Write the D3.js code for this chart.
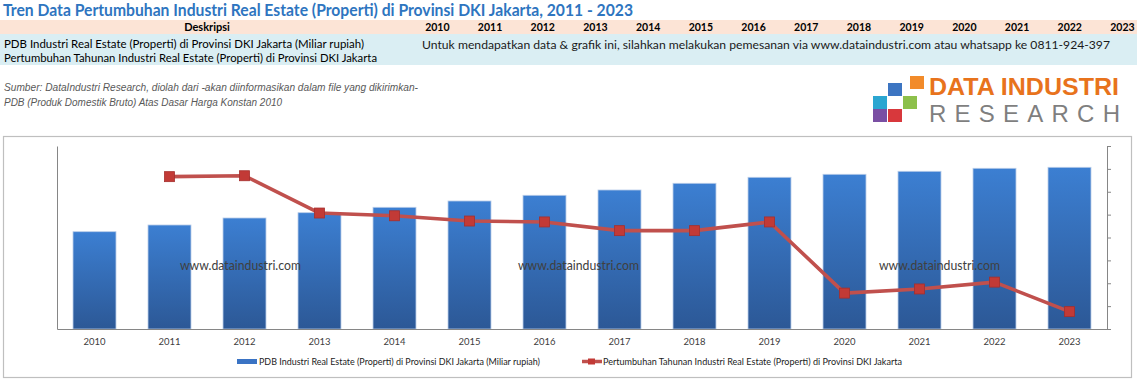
<!DOCTYPE html>
<html>
<head>
<meta charset="utf-8">
<script src="https://cdn.jsdelivr.net/npm/d3@7/dist/d3.min.js"></script>
<style>
  html, body { margin: 0; padding: 0; background: #ffffff; }
  svg { display: block; }
</style>
</head>
<body>
<svg id="chart" width="1137" height="380"></svg>
<script>
// ---------- data ----------
const years = ["2010","2011","2012","2013","2014","2015","2016","2017","2018","2019","2020","2021","2022","2023"];
const pdbValues = [97300, 104000, 111000, 116300, 121700, 128000, 133700, 139000, 145700, 151700, 154700, 157700, 160700, 161700];
const growthValues = [null, 6.66, 6.70, 5.07, 4.95, 4.72, 4.68, 4.30, 4.30, 4.68, 1.57, 1.75, 2.05, 0.76];
const rightTicks = [0, 1, 2, 3, 4, 5, 6, 7, 8];
const titleText = "Tren Data Pertumbuhan Industri Real Estate (Properti) di Provinsi DKI Jakarta, 2011 - 2023";
const seriesNames = [
  "PDB Industri Real Estate (Properti) di Provinsi DKI Jakarta (Miliar rupiah)",
  "Pertumbuhan Tahunan Industri Real Estate (Properti) di Provinsi DKI Jakarta"
];
const noticeText = "Untuk mendapatkan data & grafik ini, silahkan melakukan pemesanan via www.dataindustri.com atau whatsapp ke 0811-924-397";
const sourceLines = [
  "Sumber: DataIndustri Research, diolah dari -akan diinformasikan dalam file yang dikirimkan-",
  "PDB (Produk Domestik Bruto) Atas Dasar Harga Konstan 2010"
];
const watermark = "www.dataindustri.com";

// ---------- setup ----------
const svg = d3.select("#chart");
const F = "Lato, 'Open Sans', sans-serif";

svg.append("rect").attr("width", 1137).attr("height", 380).attr("fill", "#ffffff");

// Title
svg.append("text")
  .attr("x", 3).attr("y", 16)
  .attr("font-family", F).attr("font-weight", "bold").attr("font-size", 17)
  .attr("fill", "#2e75c0")
  .attr("textLength", 630).attr("lengthAdjust", "spacingAndGlyphs")
  .text(titleText);

// Table header band
svg.append("rect").attr("x", 0).attr("y", 20).attr("width", 1137).attr("height", 14).attr("fill", "#fce4d6");
svg.append("rect").attr("x", 0).attr("y", 34).attr("width", 1137).attr("height", 31).attr("fill", "#daeef3");

svg.append("text")
  .attr("x", 207).attr("y", 31)
  .attr("text-anchor", "middle")
  .attr("font-family", F).attr("font-weight", "bold").attr("font-size", 11)
  .attr("fill", "#000")
  .text("Deskripsi");

const headerX = d3.scaleBand().domain(years).range([411, 1148.8]);
svg.append("g").selectAll("text").data(years).join("text")
  .attr("x", d => headerX(d) + headerX.bandwidth() / 2)
  .attr("y", 31)
  .attr("text-anchor", "middle")
  .attr("font-family", F).attr("font-weight", "bold").attr("font-size", 10.5)
  .attr("fill", "#000")
  .text(d => d);

const rowWidths = [360, 373];
svg.append("g").selectAll("text").data(seriesNames).join("text")
  .attr("x", 4)
  .attr("y", (d, i) => 47.5 + i * 14)
  .attr("font-family", F).attr("font-size", 11.5)
  .attr("fill", "#000")
  .attr("textLength", (d, i) => rowWidths[i]).attr("lengthAdjust", "spacingAndGlyphs")
  .text(d => d);

svg.append("text")
  .attr("x", 422).attr("y", 48.5)
  .attr("font-family", F).attr("font-size", 12)
  .attr("fill", "#1a1a1a")
  .attr("textLength", 688).attr("lengthAdjust", "spacingAndGlyphs")
  .text(noticeText);

// Source lines
const srcWidths = [414, 278];
svg.append("g").selectAll("text").data(sourceLines).join("text")
  .attr("x", 4)
  .attr("y", (d, i) => 91 + i * 14.5)
  .attr("font-family", "'Liberation Sans', Arial, sans-serif").attr("font-style", "italic").attr("font-size", 10)
  .attr("fill", "#595959")
  .attr("textLength", (d, i) => srcWidths[i]).attr("lengthAdjust", "spacingAndGlyphs")
  .text(d => d);

// Logo
const logo = svg.append("g");
const sq = [
  {x: 910, y: 76, c: "#f28b2a"},
  {x: 888, y: 83, c: "#3c75c2"},
  {x: 873, y: 96, c: "#2ba6d1"},
  {x: 903, y: 96, c: "#8dc04b"},
  {x: 873, y: 109, c: "#7a4fa3"},
  {x: 888, y: 109, c: "#d8383c"}
];
logo.selectAll("rect").data(sq).join("rect")
  .attr("x", d => d.x).attr("y", d => d.y).attr("width", 14).attr("height", 13).attr("fill", d => d.c);
logo.append("text")
  .attr("x", 929).attr("y", 95)
  .attr("font-family", "'Liberation Sans', Arial, sans-serif").attr("font-weight", "bold").attr("font-size", 23.5)
  .attr("fill", "#e8731c")
  .attr("textLength", 190).attr("lengthAdjust", "spacingAndGlyphs")
  .text("DATA INDUSTRI");
logo.append("text")
  .attr("x", 929).attr("y", 121.5)
  .attr("font-family", "'Liberation Sans', Arial, sans-serif").attr("font-size", 24)
  .attr("fill", "#7f7f7f")
  .attr("textLength", 191).attr("lengthAdjust", "spacing")
  .text("RESEARCH");

// Chart frame
svg.append("rect")
  .attr("x", 3.5).attr("y", 136.5).attr("width", 1128).attr("height", 241)
  .attr("fill", "#ffffff").attr("stroke", "#bfbfbf").attr("stroke-width", 1.2);

// Scales
const plotL = 57, plotR = 1107, plotT = 146, plotB = 329;
const x = d3.scaleBand().domain(years).range([plotL, plotR]).paddingInner(0.427).paddingOuter(0.2135);
const xc = d3.scaleBand().domain(years).range([plotL, plotR]);
const yL = d3.scaleLinear().domain([0, 183000]).range([plotB, plotT]);
const yR = d3.scaleLinear().domain([0, 8]).range([plotB, plotT]);

// Gradient
const defs = svg.append("defs");
const grad = defs.append("linearGradient").attr("id", "barGrad").attr("x1", 0).attr("y1", 0).attr("x2", 0).attr("y2", 1);
grad.append("stop").attr("offset", "0%").attr("stop-color", "#3c7fd2");
grad.append("stop").attr("offset", "100%").attr("stop-color", "#2c5896");

// Bars
svg.append("g").selectAll("rect").data(years).join("rect")
  .attr("x", d => x(d))
  .attr("y", (d, i) => yL(pdbValues[i]))
  .attr("width", x.bandwidth())
  .attr("height", (d, i) => plotB - yL(pdbValues[i]))
  .attr("fill", "url(#barGrad)")
  .attr("stroke", "#b8cce8").attr("stroke-width", 0.8);

// Axes
const axisG = svg.append("g");
axisG.append("g")
  .attr("transform", `translate(${plotL},0)`)
  .call(d3.axisLeft(yL).tickValues([]).tickSize(0))
  .call(g => g.select(".domain").attr("stroke", "#868686"));
axisG.append("g")
  .attr("transform", `translate(${plotR},0)`)
  .call(d3.axisRight(yR).tickValues(rightTicks).tickSize(4).tickFormat(""))
  .call(g => g.select(".domain").attr("stroke", "#868686"))
  .call(g => g.selectAll(".tick line").attr("stroke", "#868686"));
axisG.append("g")
  .attr("transform", `translate(0,${plotB})`)
  .call(d3.axisBottom(xc).tickSize(0).tickPadding(9))
  .call(g => g.select(".domain").attr("stroke", "#868686"))
  .call(g => g.selectAll("text").attr("font-family", F).attr("font-size", 9.5).attr("fill", "#404040"));

// Watermarks
svg.append("g").selectAll("text").data([180, 518, 879]).join("text")
  .attr("x", d => d).attr("y", 270)
  .attr("font-family", F).attr("font-size", 12.5)
  .attr("fill", "#404040")
  .attr("textLength", 121).attr("lengthAdjust", "spacingAndGlyphs")
  .text(watermark);

// Line
const lineData = years.map((d, i) => ({year: d, v: growthValues[i]})).filter(d => d.v !== null);
const line = d3.line().x(d => xc(d.year) + xc.bandwidth() / 2).y(d => yR(d.v));
svg.append("path")
  .datum(lineData)
  .attr("d", line)
  .attr("fill", "none").attr("stroke", "#c0504d").attr("stroke-width", 3.6)
  .attr("stroke-linejoin", "round");
svg.append("g").selectAll("rect").data(lineData).join("rect")
  .attr("x", d => xc(d.year) + xc.bandwidth() / 2 - 5)
  .attr("y", d => yR(d.v) - 5)
  .attr("width", 10).attr("height", 10)
  .attr("fill", "#c23a36").attr("stroke", "#a52f2d").attr("stroke-width", 0.8);

// Legend
const lg = svg.append("g");
lg.append("rect").attr("x", 237).attr("y", 359).attr("width", 20).attr("height", 5).attr("fill", "#3a73c4");
lg.append("text").attr("x", 259).attr("y", 364.5)
  .attr("font-family", F).attr("font-size", 9.5).attr("fill", "#222")
  .attr("textLength", 281).attr("lengthAdjust", "spacingAndGlyphs")
  .text(seriesNames[0]);
lg.append("line").attr("x1", 582).attr("x2", 602).attr("y1", 361.5).attr("y2", 361.5)
  .attr("stroke", "#c0504d").attr("stroke-width", 3.5);
lg.append("rect").attr("x", 588).attr("y", 358.5).attr("width", 7).attr("height", 6)
  .attr("fill", "#c23a36");
lg.append("text").attr("x", 603).attr("y", 364.5)
  .attr("font-family", F).attr("font-size", 9.5).attr("fill", "#222")
  .attr("textLength", 299).attr("lengthAdjust", "spacingAndGlyphs")
  .text(seriesNames[1]);
</script>
</body>
</html>
